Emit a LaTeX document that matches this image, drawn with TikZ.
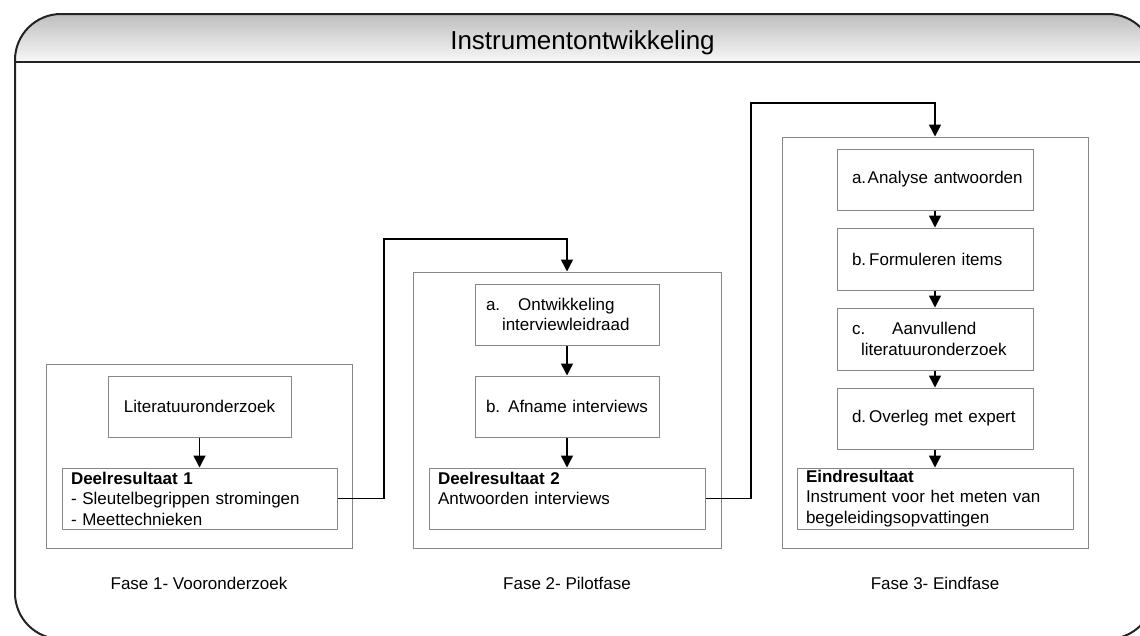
\documentclass[tikz,border=0pt]{standalone}
\usepackage{fontspec}
\setmainfont{Liberation Sans}
\usetikzlibrary{arrows.meta}
\definecolor{boxgray}{RGB}{135,135,135}
\definecolor{framec}{RGB}{35,35,35}
\newcommand\fs{\fontsize{17}{20.5}\selectfont}
\newcommand\ind[1]{\hspace*{#1pt}}
\begin{document}
\begin{tikzpicture}[x=1pt,y=-1pt,
  phasebox/.style={draw=boxgray, line width=1pt, inner sep=0pt, minimum width=#1},
  stepbox/.style={draw=boxgray, line width=1pt, inner sep=0pt, font=\fs, align=center,
     text width=#1, minimum height=61pt},
  leftbox/.style={draw=boxgray, line width=1pt, inner sep=0pt, font=\fs, align=left,
     text width=#1, minimum height=61pt,
     execute at begin node={\hyphenpenalty=10000\exhyphenpenalty=10000}},
  arr/.style={line width=1.5pt, black, -{Triangle[length=12pt,width=12pt]}},
  lbl/.style={font=\fs, anchor=base, inner sep=0pt}]
\useasboundingbox (0,0) rectangle (1140,635);
\clip (0,0) rectangle (1140,635);
% header
\shade[top color={rgb,255:red,190;green,190;blue,190}, bottom color={rgb,255:red,248;green,248;blue,248}, rounded corners=46pt]
  (15,62) -- (15,14) -- (1154,14) [sharp corners] -- (1154,62) -- cycle;
\draw[framec, line width=2pt, rounded corners=46pt] (15,14) rectangle (1154,639);
\draw[framec, line width=2pt] (15,62) -- (1154,62);
\node[font=\fontsize{26}{30}\selectfont, anchor=base, inner sep=0pt] (title) at (582.5,49) {Instrumentontwikkeling};
% phase boxes
\node[phasebox=306pt, minimum height=184pt] (p1) at (199,456) {};
\node[phasebox=308pt, minimum height=276pt] (p2) at (567,410) {};
\node[phasebox=306pt, minimum height=411pt] (p3) at (935,342.5) {};
% phase 1
\node[stepbox=183pt] (lit) at (199.5,406.5) {Literatuuronderzoek};
\node[leftbox=275pt] (d1) at (199.5,498.5) {\ind{9}\textbf{Deelresultaat 1}\\\ind{9}- Sleutelbegrippen stromingen\\\ind{9}- Meettechnieken};
% phase 2
\node[leftbox=184pt] (p2a) at (567,314.5) {\ind{11}a.\hspace{18pt}Ontwikkeling\\\ind{27}interviewleidraad};
\node[leftbox=184pt] (p2b) at (567,406.5) {\ind{11}b.\hspace{8pt}Afname interviews};
\node[leftbox=276pt] (d2) at (567,498.5) {\ind{9}\textbf{Deelresultaat 2}\\\ind{9}Antwoorden interviews\\\mbox{}};
% phase 3
\node[leftbox=196pt] (p3a) at (935,179.5) {\ind{15}a.\hspace{1.5pt}Analyse antwoorden};
\node[leftbox=196pt, minimum height=62pt] (p3b) at (935,259) {\ind{15}b.\hspace{3pt}Formuleren items};
\node[leftbox=196pt, minimum height=62pt] (p3c) at (935,339) {\ind{15}c.\hspace{27pt}Aanvullend\\\ind{24}literatuuronderzoek};
\node[leftbox=196pt] (p3d) at (935,418.5) {\ind{15}d.\hspace{3pt}Overleg met expert};
\node[leftbox=276pt] (e) at (935,498.5) {\ind{9}\textbf{Eindresultaat}\\\ind{9}Instrument voor het meten van\\\ind{9}begeleidingsopvattingen};
% arrows inside phases
\draw[arr] (lit) -- (d1);
\draw[arr] (p2a) -- (p2b);
\draw[arr] (p2b) -- (d2);
\draw[arr] (p3a) -- (p3b);
\draw[arr] (p3b) -- (p3c);
\draw[arr] (p3c) -- (p3d);
\draw[arr] (p3d.south) -- (p3d.south |- e.north);
% arrows between phases
\coordinate (k1) at (384,239);
\coordinate (k2) at (751,103);
\draw[arr] (d1.east) -| (k1) -| (p2.north);
\draw[arr] (d2.east) -| (k2) -| (p3.north);
% labels
\node[lbl] (f1) at (199,589) {Fase 1- Vooronderzoek};
\node[lbl] (f2) at (567,589) {Fase 2- Pilotfase};
\node[lbl] (f3) at (935,589) {Fase 3- Eindfase};
\end{tikzpicture}
\end{document}
